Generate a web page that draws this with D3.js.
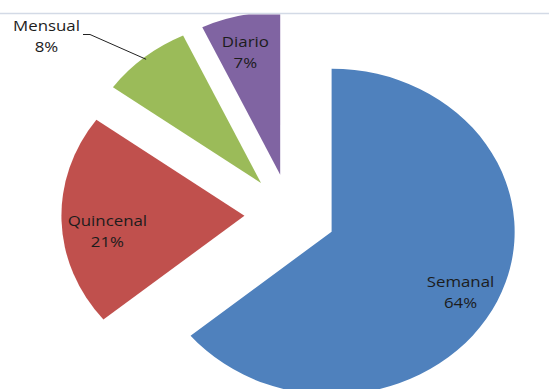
<!DOCTYPE html>
<html>
<head>
<meta charset="utf-8">
<script src="https://cdn.jsdelivr.net/npm/d3@7/dist/d3.min.js"></script>
<style>
  html, body { margin: 0; padding: 0; background: #fff; }
  svg { display: block; }
  text { font-family: "Open Sans", "DejaVu Sans", sans-serif; font-size: 15px; fill: #1c1c1c; }
</style>
</head>
<body>
<svg id="chart" width="549" height="389"></svg>
<script>
// Frecuencia de compra
const categories = ["Semanal", "Quincenal", "Mensual", "Diario"];
const percents = [64, 21, 8, 7];
const colors = ["#4F81BD", "#C0504D", "#9BBB59", "#8064A2"];

// Layout
const W = 549, H = 389;
const R = 163;              // pie radius (vertical units)
const stretchX = 1.123;     // horizontal stretch of the whole chart
const center = [290.2, 214.4];
const explode = 0.25 * R;   // every slice pulled out by 25% of the radius
const labelNudge = {        // fine placement of the label blocks
  Semanal:   [3, 8],
  Quincenal: [2, 12],
  Diario:    [-4.5, -1]
};

const svg = d3.select("#chart");

// border line of the chart frame at the top
svg.append("line")
  .attr("x1", 0).attr("x2", W)
  .attr("y1", 13.5).attr("y2", 13.5)
  .attr("stroke", "#d3dae6").attr("stroke-width", 1.5);

svg.append("defs").append("clipPath").attr("id", "plotClip")
  .append("rect").attr("x", 0).attr("y", 14.5).attr("width", W).attr("height", H - 14.5);

const data = categories.map((c, i) => ({ name: c, value: percents[i], color: colors[i] }));

const pie = d3.pie().sort(null).value(d => d.value).startAngle(0).endAngle(2 * Math.PI);
const arcs = pie(data);
const arc = d3.arc().innerRadius(0).outerRadius(R);

// unit direction of a slice's bisector (screen coordinates, y down)
function dir(a) {
  const m = (a.startAngle + a.endAngle) / 2;
  return [Math.sin(m), -Math.cos(m)];
}
// point at distance r along the bisector of slice a, from the pie centre, in page coords
function pt(a, r) {
  const [dx, dy] = dir(a);
  return [center[0] + stretchX * dx * (explode + r), center[1] + dy * (explode + r)];
}

const pieG = svg.append("g").attr("clip-path", "url(#plotClip)")
  .append("g")
  .attr("transform", `translate(${center[0]},${center[1]}) scale(${stretchX},1)`);

pieG.selectAll("path")
  .data(arcs)
  .join("path")
  .attr("transform", a => {
    const [dx, dy] = dir(a);
    return `translate(${dx * explode},${dy * explode})`;
  })
  .attr("d", arc)
  .attr("fill", a => a.data.color);

// labels
const labelG = svg.append("g");
arcs.forEach(a => {
  const name = a.data.name;
  let cx, cy;
  if (name === "Mensual") {
    // outside label with a leader line to the middle of the arc
    const end = pt(a, R * 0.985);
    cx = 46.5; cy = 36;
    labelG.append("polyline")
      .attr("points", [[83, 34.5], [90, 34.5], end].map(p => p.join(",")).join(" "))
      .attr("fill", "none").attr("stroke", "#222").attr("stroke-width", 1);
  } else {
    const p = pt(a, R * 0.76);
    const n = labelNudge[name] || [0, 0];
    cx = p[0] + n[0]; cy = p[1] + n[1];
  }
  const t = labelG.append("text")
    .attr("text-anchor", "middle")
    .attr("transform", `translate(${cx},${cy}) scale(${stretchX},1)`);
  t.append("tspan").attr("x", 0).attr("dy", "-0.35em").text(name);
  t.append("tspan").attr("x", 0).attr("dy", "1.4em").text(a.data.value + "%");
});
</script>
</body>
</html>
